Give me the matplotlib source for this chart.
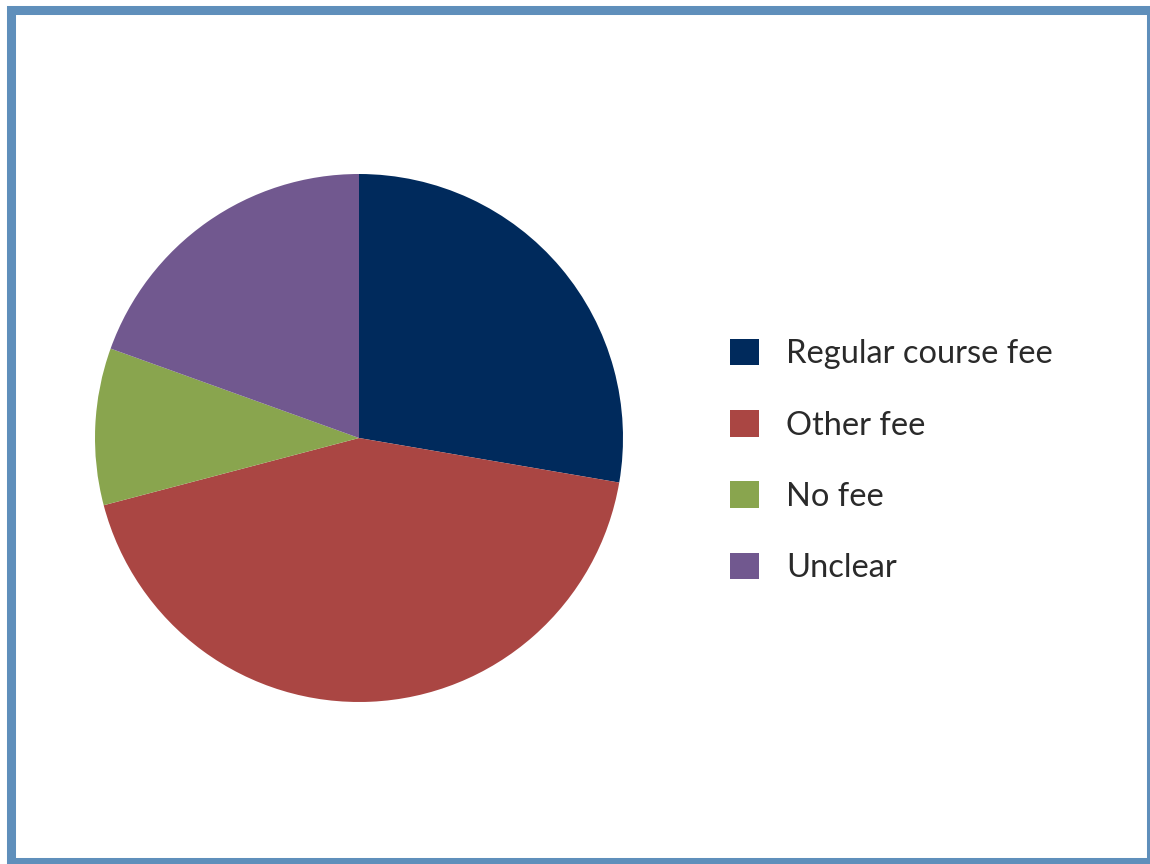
import matplotlib.pyplot as plt
from matplotlib.patches import Patch, Rectangle

labels = ['Regular course fee', 'Other fee', 'No fee', 'Unclear']
shares = [27.7, 43.2, 9.6, 19.5]
colors = ['#002A5C', '#AA4643', '#89A54E', '#71588F']

plt.rcParams['font.family'] = ['Lato', 'DejaVu Sans']

fig = plt.figure(figsize=(11.5, 8.64), dpi=100)
ax = fig.add_axes([95 / 1150, 162 / 864, 528 / 1150, 528 / 864])

ax.pie(shares, colors=colors, startangle=90, counterclock=False,
       radius=1, wedgeprops=dict(linewidth=0))
ax.set_xlim(-1, 1)
ax.set_ylim(-1, 1)
ax.set_aspect('equal')
ax.axis('off')

# legend on the right
handles = [Patch(facecolor=c, edgecolor='none') for c in colors]
fig.legend(handles, labels, loc='center left',
           bbox_to_anchor=(701 / 1150, 1 - 461 / 864),
           frameon=False, prop=dict(size=23.5),
           handlelength=0.88, handleheight=0.88,
           handletextpad=0.82, labelspacing=1.25, labelcolor='#2a2a2a')

# frame round the whole figure
fig.patches.append(Rectangle((10.5 / 1150, 2.5 / 864), 1140 / 1150, 851.5 / 864,
                             transform=fig.transFigure, fill=False,
                             edgecolor='#5F8FBB', linewidth=6.5))

fig.savefig('out.png', dpi=100)
